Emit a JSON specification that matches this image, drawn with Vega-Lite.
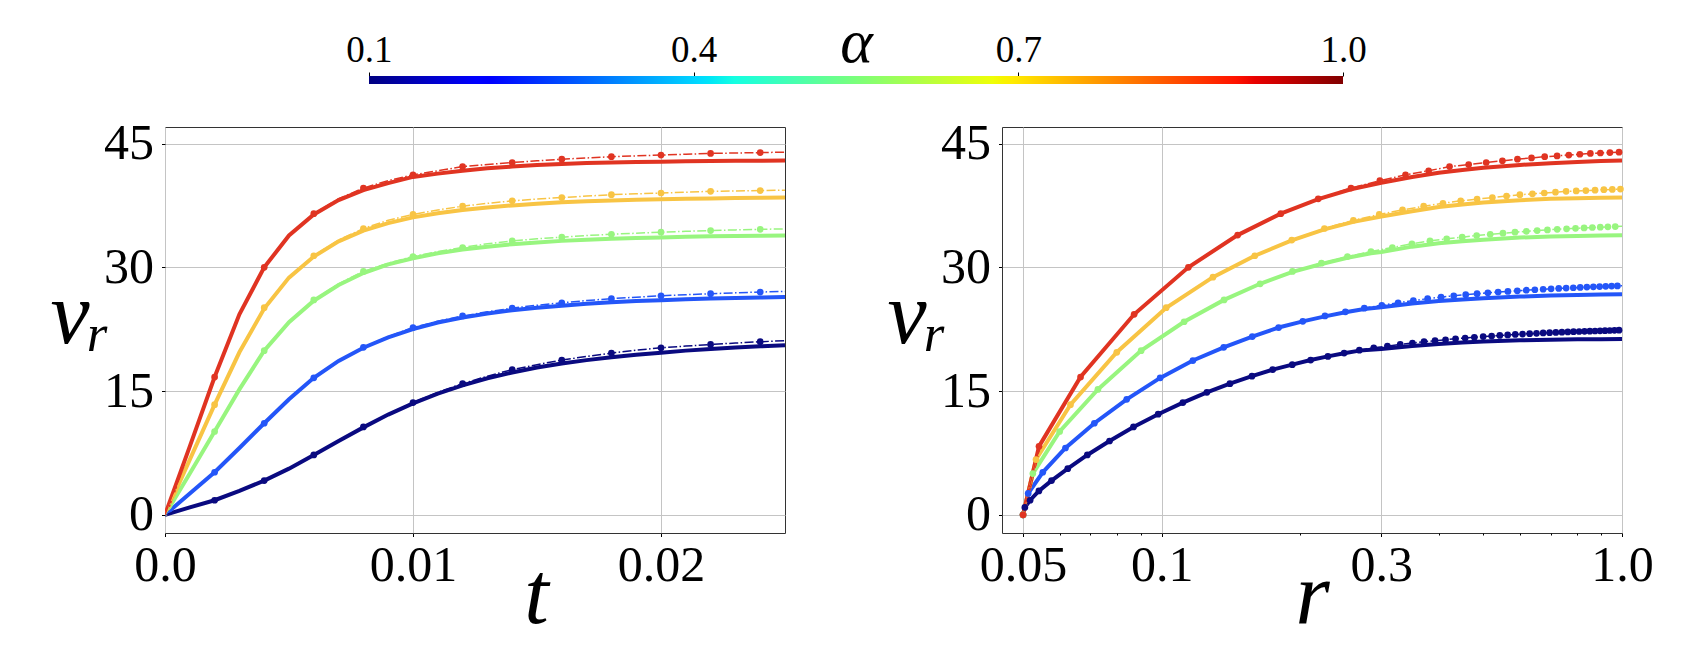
{
  "$schema": "https://vega.github.io/schema/vega-lite/v6.json",
  "background": "white",
  "padding": {"left": 49, "top": 11, "right": 10, "bottom": 10},
  "config": {
    "view": {"stroke": "#333333", "strokeWidth": 1},
    "font": "Liberation Serif",
    "axis": {
      "labelFont": "Liberation Serif",
      "titleFont": "Liberation Serif",
      "labelColor": "#000000",
      "titleColor": "#000000",
      "tickColor": "#000000",
      "tickWidth": 1,
      "domain": false,
      "gridColor": "#c4c4c4",
      "gridWidth": 1,
      "labelFlush": false,
      "labelOverlap": false,
      "labelBound": false,
      "titleFontWeight": "normal"
    }
  },
  "datasets": {
    "num": [
      {"a": 0.1, "k": 0, "t": 0.000, "r": 0.05, "v": 0},
      {"a": 0.1, "k": 1, "t": 0.001, "r": 0.05045, "v": 0.9},
      {"a": 0.1, "k": 2, "t": 0.002, "r": 0.05179, "v": 1.77},
      {"a": 0.1, "k": 3, "t": 0.003, "r": 0.05412, "v": 2.9},
      {"a": 0.1, "k": 4, "t": 0.004, "r": 0.05765, "v": 4.15},
      {"a": 0.1, "k": 5, "t": 0.005, "r": 0.06252, "v": 5.6},
      {"a": 0.1, "k": 6, "t": 0.006, "r": 0.06895, "v": 7.26},
      {"a": 0.1, "k": 7, "t": 0.007, "r": 0.07705, "v": 8.95},
      {"a": 0.1, "k": 8, "t": 0.008, "r": 0.08685, "v": 10.65},
      {"a": 0.1, "k": 9, "t": 0.009, "r": 0.09828, "v": 12.2},
      {"a": 0.1, "k": 10, "t": 0.010, "r": 0.1112, "v": 13.6},
      {"a": 0.1, "k": 11, "t": 0.011, "r": 0.1254, "v": 14.85},
      {"a": 0.1, "k": 12, "t": 0.012, "r": 0.1407, "v": 15.9},
      {"a": 0.1, "k": 13, "t": 0.013, "r": 0.1571, "v": 16.8},
      {"a": 0.1, "k": 14, "t": 0.014, "r": 0.1743, "v": 17.6},
      {"a": 0.1, "k": 15, "t": 0.015, "r": 0.1922, "v": 18.2},
      {"a": 0.1, "k": 16, "t": 0.016, "r": 0.2107, "v": 18.76},
      {"a": 0.1, "k": 17, "t": 0.017, "r": 0.2297, "v": 19.2},
      {"a": 0.1, "k": 18, "t": 0.018, "r": 0.2491, "v": 19.6},
      {"a": 0.1, "k": 19, "t": 0.019, "r": 0.2688, "v": 19.95},
      {"a": 0.1, "k": 20, "t": 0.020, "r": 0.2889, "v": 20.25},
      {"a": 0.1, "k": 21, "t": 0.021, "r": 0.3093, "v": 20.45},
      {"a": 0.1, "k": 22, "t": 0.022, "r": 0.3298, "v": 20.65},
      {"a": 0.1, "k": 23, "t": 0.023, "r": 0.3506, "v": 20.82},
      {"a": 0.1, "k": 24, "t": 0.024, "r": 0.3715, "v": 20.98},
      {"a": 0.1, "k": 25, "t": 0.025, "r": 0.3925, "v": 21.1},
      {"a": 0.1, "k": 26, "t": 0.026, "r": 0.4137, "v": 21.22},
      {"a": 0.1, "k": 27, "t": 0.027, "r": 0.4349, "v": 21.33},
      {"a": 0.1, "k": 28, "t": 0.028, "r": 0.4563, "v": 21.43},
      {"a": 0.1, "k": 29, "t": 0.029, "r": 0.4778, "v": 21.52},
      {"a": 0.1, "k": 30, "t": 0.030, "r": 0.4994, "v": 21.6},
      {"a": 0.1, "k": 31, "t": 0.031, "r": 0.5210, "v": 21.67},
      {"a": 0.1, "k": 32, "t": 0.032, "r": 0.5427, "v": 21.74},
      {"a": 0.1, "k": 33, "t": 0.033, "r": 0.5645, "v": 21.8},
      {"a": 0.1, "k": 34, "t": 0.034, "r": 0.5863, "v": 21.86},
      {"a": 0.1, "k": 35, "t": 0.035, "r": 0.6082, "v": 21.91},
      {"a": 0.1, "k": 36, "t": 0.036, "r": 0.6301, "v": 21.96},
      {"a": 0.1, "k": 37, "t": 0.037, "r": 0.6521, "v": 22.0},
      {"a": 0.1, "k": 38, "t": 0.038, "r": 0.6741, "v": 22.04},
      {"a": 0.1, "k": 39, "t": 0.039, "r": 0.6962, "v": 22.08},
      {"a": 0.1, "k": 40, "t": 0.040, "r": 0.7183, "v": 22.11},
      {"a": 0.1, "k": 41, "t": 0.041, "r": 0.7404, "v": 22.14},
      {"a": 0.1, "k": 42, "t": 0.042, "r": 0.7626, "v": 22.17},
      {"a": 0.1, "k": 43, "t": 0.043, "r": 0.7847, "v": 22.2},
      {"a": 0.1, "k": 44, "t": 0.044, "r": 0.8070, "v": 22.22},
      {"a": 0.1, "k": 45, "t": 0.045, "r": 0.8292, "v": 22.24},
      {"a": 0.1, "k": 46, "t": 0.046, "r": 0.8514, "v": 22.26},
      {"a": 0.1, "k": 47, "t": 0.047, "r": 0.8737, "v": 22.28},
      {"a": 0.1, "k": 48, "t": 0.048, "r": 0.8960, "v": 22.3},
      {"a": 0.1, "k": 49, "t": 0.049, "r": 0.9183, "v": 22.32},
      {"a": 0.1, "k": 50, "t": 0.050, "r": 0.9406, "v": 22.34},
      {"a": 0.1, "k": 51, "t": 0.051, "r": 0.9630, "v": 22.36},
      {"a": 0.1, "k": 52, "t": 0.052, "r": 0.9853, "v": 22.38},
      {"a": 0.1, "k": 53, "t": 0.053, "r": 1.0077, "v": 22.4},

      {"a": 0.3, "k": 0, "t": 0.000, "r": 0.05, "v": 0},
      {"a": 0.3, "k": 1, "t": 0.001, "r": 0.0513, "v": 2.6},
      {"a": 0.3, "k": 2, "t": 0.002, "r": 0.05518, "v": 5.16},
      {"a": 0.3, "k": 3, "t": 0.003, "r": 0.06181, "v": 8.1},
      {"a": 0.3, "k": 4, "t": 0.004, "r": 0.07141, "v": 11.1},
      {"a": 0.3, "k": 5, "t": 0.005, "r": 0.08396, "v": 14.0},
      {"a": 0.3, "k": 6, "t": 0.006, "r": 0.09926, "v": 16.6},
      {"a": 0.3, "k": 7, "t": 0.007, "r": 0.11691, "v": 18.7},
      {"a": 0.3, "k": 8, "t": 0.008, "r": 0.13641, "v": 20.3},
      {"a": 0.3, "k": 9, "t": 0.009, "r": 0.15736, "v": 21.6},
      {"a": 0.3, "k": 10, "t": 0.010, "r": 0.17951, "v": 22.7},
      {"a": 0.3, "k": 11, "t": 0.011, "r": 0.20259, "v": 23.45},
      {"a": 0.3, "k": 12, "t": 0.012, "r": 0.22636, "v": 24.1},
      {"a": 0.3, "k": 13, "t": 0.013, "r": 0.25071, "v": 24.6},
      {"a": 0.3, "k": 14, "t": 0.014, "r": 0.27554, "v": 25.05},
      {"a": 0.3, "k": 15, "t": 0.015, "r": 0.30076, "v": 25.4},
      {"a": 0.3, "k": 16, "t": 0.016, "r": 0.32631, "v": 25.7},
      {"a": 0.3, "k": 17, "t": 0.017, "r": 0.35215, "v": 25.97},
      {"a": 0.3, "k": 18, "t": 0.018, "r": 0.37823, "v": 26.2},
      {"a": 0.3, "k": 19, "t": 0.019, "r": 0.40452, "v": 26.38},
      {"a": 0.3, "k": 20, "t": 0.020, "r": 0.43099, "v": 26.55},
      {"a": 0.3, "k": 21, "t": 0.021, "r": 0.4576, "v": 26.68},
      {"a": 0.3, "k": 22, "t": 0.022, "r": 0.48434, "v": 26.8},
      {"a": 0.3, "k": 23, "t": 0.023, "r": 0.51119, "v": 26.9},
      {"a": 0.3, "k": 24, "t": 0.024, "r": 0.53814, "v": 27.0},
      {"a": 0.3, "k": 25, "t": 0.025, "r": 0.56518, "v": 27.08},
      {"a": 0.3, "k": 26, "t": 0.026, "r": 0.5923, "v": 27.15},
      {"a": 0.3, "k": 27, "t": 0.027, "r": 0.61948, "v": 27.22},
      {"a": 0.3, "k": 28, "t": 0.028, "r": 0.64673, "v": 27.28},
      {"a": 0.3, "k": 29, "t": 0.029, "r": 0.67404, "v": 27.34},
      {"a": 0.3, "k": 30, "t": 0.030, "r": 0.7014, "v": 27.39},
      {"a": 0.3, "k": 31, "t": 0.031, "r": 0.72882, "v": 27.44},
      {"a": 0.3, "k": 32, "t": 0.032, "r": 0.75628, "v": 27.48},
      {"a": 0.3, "k": 33, "t": 0.033, "r": 0.78378, "v": 27.52},
      {"a": 0.3, "k": 34, "t": 0.034, "r": 0.81132, "v": 27.56},
      {"a": 0.3, "k": 35, "t": 0.035, "r": 0.8389, "v": 27.6},
      {"a": 0.3, "k": 36, "t": 0.036, "r": 0.86652, "v": 27.63},
      {"a": 0.3, "k": 37, "t": 0.037, "r": 0.89416, "v": 27.66},
      {"a": 0.3, "k": 38, "t": 0.038, "r": 0.92184, "v": 27.69},
      {"a": 0.3, "k": 39, "t": 0.039, "r": 0.94954, "v": 27.72},
      {"a": 0.3, "k": 40, "t": 0.040, "r": 0.97727, "v": 27.74},
      {"a": 0.3, "k": 41, "t": 0.041, "r": 1.005, "v": 27.76},

      {"a": 0.5, "k": 0, "t": 0.000, "r": 0.05, "v": 0},
      {"a": 0.5, "k": 1, "t": 0.001, "r": 0.0525, "v": 5.0},
      {"a": 0.5, "k": 2, "t": 0.002, "r": 0.06005, "v": 10.1},
      {"a": 0.5, "k": 3, "t": 0.003, "r": 0.0727, "v": 15.2},
      {"a": 0.5, "k": 4, "t": 0.004, "r": 0.09025, "v": 19.9},
      {"a": 0.5, "k": 5, "t": 0.005, "r": 0.1119, "v": 23.4},
      {"a": 0.5, "k": 6, "t": 0.006, "r": 0.13663, "v": 26.05},
      {"a": 0.5, "k": 7, "t": 0.007, "r": 0.16365, "v": 28.0},
      {"a": 0.5, "k": 8, "t": 0.008, "r": 0.1924, "v": 29.5},
      {"a": 0.5, "k": 9, "t": 0.009, "r": 0.2224, "v": 30.5},
      {"a": 0.5, "k": 10, "t": 0.010, "r": 0.2533, "v": 31.3},
      {"a": 0.5, "k": 11, "t": 0.011, "r": 0.2849, "v": 31.9},
      {"a": 0.5, "k": 12, "t": 0.012, "r": 0.31705, "v": 32.4},
      {"a": 0.5, "k": 13, "t": 0.013, "r": 0.34968, "v": 32.85},
      {"a": 0.5, "k": 14, "t": 0.014, "r": 0.3827, "v": 33.2},
      {"a": 0.5, "k": 15, "t": 0.015, "r": 0.41603, "v": 33.45},
      {"a": 0.5, "k": 16, "t": 0.016, "r": 0.44958, "v": 33.65},
      {"a": 0.5, "k": 17, "t": 0.017, "r": 0.48333, "v": 33.85},
      {"a": 0.5, "k": 18, "t": 0.018, "r": 0.51725, "v": 34.0},
      {"a": 0.5, "k": 19, "t": 0.019, "r": 0.55132, "v": 34.13},
      {"a": 0.5, "k": 20, "t": 0.020, "r": 0.58551, "v": 34.25},
      {"a": 0.5, "k": 21, "t": 0.021, "r": 0.61981, "v": 34.36},
      {"a": 0.5, "k": 22, "t": 0.022, "r": 0.65422, "v": 34.45},
      {"a": 0.5, "k": 23, "t": 0.023, "r": 0.68871, "v": 34.53},
      {"a": 0.5, "k": 24, "t": 0.024, "r": 0.72327, "v": 34.6},
      {"a": 0.5, "k": 25, "t": 0.025, "r": 0.7579, "v": 34.66},
      {"a": 0.5, "k": 26, "t": 0.026, "r": 0.79259, "v": 34.72},
      {"a": 0.5, "k": 27, "t": 0.027, "r": 0.82734, "v": 34.77},
      {"a": 0.5, "k": 28, "t": 0.028, "r": 0.86213, "v": 34.82},
      {"a": 0.5, "k": 29, "t": 0.029, "r": 0.89697, "v": 34.86},
      {"a": 0.5, "k": 30, "t": 0.030, "r": 0.93185, "v": 34.9},
      {"a": 0.5, "k": 31, "t": 0.031, "r": 0.96677, "v": 34.93},
      {"a": 0.5, "k": 32, "t": 0.032, "r": 1.0017, "v": 34.96},

      {"a": 0.7, "k": 0, "t": 0.000, "r": 0.05, "v": 0},
      {"a": 0.7, "k": 1, "t": 0.001, "r": 0.05335, "v": 6.7},
      {"a": 0.7, "k": 2, "t": 0.002, "r": 0.06338, "v": 13.35},
      {"a": 0.7, "k": 3, "t": 0.003, "r": 0.0799, "v": 19.7},
      {"a": 0.7, "k": 4, "t": 0.004, "r": 0.1023, "v": 25.1},
      {"a": 0.7, "k": 5, "t": 0.005, "r": 0.12925, "v": 28.8},
      {"a": 0.7, "k": 6, "t": 0.006, "r": 0.15935, "v": 31.4},
      {"a": 0.7, "k": 7, "t": 0.007, "r": 0.1917, "v": 33.3},
      {"a": 0.7, "k": 8, "t": 0.008, "r": 0.2257, "v": 34.7},
      {"a": 0.7, "k": 9, "t": 0.009, "r": 0.2609, "v": 35.7},
      {"a": 0.7, "k": 10, "t": 0.010, "r": 0.29695, "v": 36.4},
      {"a": 0.7, "k": 11, "t": 0.011, "r": 0.33363, "v": 36.95},
      {"a": 0.7, "k": 12, "t": 0.012, "r": 0.3708, "v": 37.4},
      {"a": 0.7, "k": 13, "t": 0.013, "r": 0.40838, "v": 37.75},
      {"a": 0.7, "k": 14, "t": 0.014, "r": 0.44628, "v": 38.05},
      {"a": 0.7, "k": 15, "t": 0.015, "r": 0.48444, "v": 38.27},
      {"a": 0.7, "k": 16, "t": 0.016, "r": 0.5228, "v": 38.45},
      {"a": 0.7, "k": 17, "t": 0.017, "r": 0.56134, "v": 38.63},
      {"a": 0.7, "k": 18, "t": 0.018, "r": 0.60006, "v": 38.8},
      {"a": 0.7, "k": 19, "t": 0.019, "r": 0.63891, "v": 38.9},
      {"a": 0.7, "k": 20, "t": 0.020, "r": 0.67786, "v": 39.0},
      {"a": 0.7, "k": 21, "t": 0.021, "r": 0.71691, "v": 39.1},
      {"a": 0.7, "k": 22, "t": 0.022, "r": 0.75606, "v": 39.2},
      {"a": 0.7, "k": 23, "t": 0.023, "r": 0.79528, "v": 39.25},
      {"a": 0.7, "k": 24, "t": 0.024, "r": 0.83456, "v": 39.3},
      {"a": 0.7, "k": 25, "t": 0.025, "r": 0.87388, "v": 39.35},
      {"a": 0.7, "k": 26, "t": 0.026, "r": 0.91326, "v": 39.4},
      {"a": 0.7, "k": 27, "t": 0.027, "r": 0.95268, "v": 39.44},
      {"a": 0.7, "k": 28, "t": 0.028, "r": 0.99214, "v": 39.48},
      {"a": 0.7, "k": 29, "t": 0.029, "r": 1.0317, "v": 39.52},

      {"a": 0.9, "k": 0, "t": 0.000, "r": 0.05, "v": 0},
      {"a": 0.9, "k": 1, "t": 0.001, "r": 0.05415, "v": 8.3},
      {"a": 0.9, "k": 2, "t": 0.002, "r": 0.06665, "v": 16.7},
      {"a": 0.9, "k": 3, "t": 0.003, "r": 0.08715, "v": 24.3},
      {"a": 0.9, "k": 4, "t": 0.004, "r": 0.1143, "v": 30.0},
      {"a": 0.9, "k": 5, "t": 0.005, "r": 0.14625, "v": 33.9},
      {"a": 0.9, "k": 6, "t": 0.006, "r": 0.18145, "v": 36.5},
      {"a": 0.9, "k": 7, "t": 0.007, "r": 0.21885, "v": 38.3},
      {"a": 0.9, "k": 8, "t": 0.008, "r": 0.2578, "v": 39.6},
      {"a": 0.9, "k": 9, "t": 0.009, "r": 0.29785, "v": 40.5},
      {"a": 0.9, "k": 10, "t": 0.010, "r": 0.3387, "v": 41.2},
      {"a": 0.9, "k": 11, "t": 0.011, "r": 0.38015, "v": 41.7},
      {"a": 0.9, "k": 12, "t": 0.012, "r": 0.4221, "v": 42.2},
      {"a": 0.9, "k": 13, "t": 0.013, "r": 0.46443, "v": 42.45},
      {"a": 0.9, "k": 14, "t": 0.014, "r": 0.507, "v": 42.7},
      {"a": 0.9, "k": 15, "t": 0.015, "r": 0.5498, "v": 42.9},
      {"a": 0.9, "k": 16, "t": 0.016, "r": 0.5928, "v": 43.1},
      {"a": 0.9, "k": 17, "t": 0.017, "r": 0.63598, "v": 43.25},
      {"a": 0.9, "k": 18, "t": 0.018, "r": 0.6793, "v": 43.4},
      {"a": 0.9, "k": 19, "t": 0.019, "r": 0.72275, "v": 43.5},
      {"a": 0.9, "k": 20, "t": 0.020, "r": 0.7663, "v": 43.6},
      {"a": 0.9, "k": 21, "t": 0.021, "r": 0.80995, "v": 43.7},
      {"a": 0.9, "k": 22, "t": 0.022, "r": 0.8537, "v": 43.8},
      {"a": 0.9, "k": 23, "t": 0.023, "r": 0.89753, "v": 43.85},
      {"a": 0.9, "k": 24, "t": 0.024, "r": 0.9414, "v": 43.9},
      {"a": 0.9, "k": 25, "t": 0.025, "r": 0.98533, "v": 43.95},
      {"a": 0.9, "k": 26, "t": 0.026, "r": 1.0293, "v": 43.98}
    ],
    "modelT": [
      {"a": 0.1, "t": 0.000, "v": 0}, {"a": 0.1, "t": 0.001, "v": 0.9}, {"a": 0.1, "t": 0.002, "v": 1.77},
      {"a": 0.1, "t": 0.003, "v": 2.9}, {"a": 0.1, "t": 0.004, "v": 4.15}, {"a": 0.1, "t": 0.005, "v": 5.6},
      {"a": 0.1, "t": 0.006, "v": 7.26}, {"a": 0.1, "t": 0.007, "v": 8.95}, {"a": 0.1, "t": 0.008, "v": 10.6},
      {"a": 0.1, "t": 0.009, "v": 12.15}, {"a": 0.1, "t": 0.010, "v": 13.5}, {"a": 0.1, "t": 0.011, "v": 14.7},
      {"a": 0.1, "t": 0.012, "v": 15.7}, {"a": 0.1, "t": 0.013, "v": 16.55}, {"a": 0.1, "t": 0.014, "v": 17.25},
      {"a": 0.1, "t": 0.015, "v": 17.85}, {"a": 0.1, "t": 0.016, "v": 18.35}, {"a": 0.1, "t": 0.017, "v": 18.75},
      {"a": 0.1, "t": 0.018, "v": 19.1}, {"a": 0.1, "t": 0.019, "v": 19.4}, {"a": 0.1, "t": 0.020, "v": 19.65},
      {"a": 0.1, "t": 0.021, "v": 19.9}, {"a": 0.1, "t": 0.022, "v": 20.1}, {"a": 0.1, "t": 0.023, "v": 20.27},
      {"a": 0.1, "t": 0.024, "v": 20.42}, {"a": 0.1, "t": 0.025, "v": 20.55},

      {"a": 0.3, "t": 0.000, "v": 0}, {"a": 0.3, "t": 0.001, "v": 2.6}, {"a": 0.3, "t": 0.002, "v": 5.16},
      {"a": 0.3, "t": 0.003, "v": 8.1}, {"a": 0.3, "t": 0.004, "v": 11.1}, {"a": 0.3, "t": 0.005, "v": 14.0},
      {"a": 0.3, "t": 0.006, "v": 16.6}, {"a": 0.3, "t": 0.007, "v": 18.65}, {"a": 0.3, "t": 0.008, "v": 20.25},
      {"a": 0.3, "t": 0.009, "v": 21.5}, {"a": 0.3, "t": 0.010, "v": 22.5}, {"a": 0.3, "t": 0.011, "v": 23.3},
      {"a": 0.3, "t": 0.012, "v": 23.9}, {"a": 0.3, "t": 0.013, "v": 24.4}, {"a": 0.3, "t": 0.014, "v": 24.8},
      {"a": 0.3, "t": 0.015, "v": 25.1}, {"a": 0.3, "t": 0.016, "v": 25.35}, {"a": 0.3, "t": 0.017, "v": 25.57},
      {"a": 0.3, "t": 0.018, "v": 25.75}, {"a": 0.3, "t": 0.019, "v": 25.9}, {"a": 0.3, "t": 0.020, "v": 26.02},
      {"a": 0.3, "t": 0.021, "v": 26.12}, {"a": 0.3, "t": 0.022, "v": 26.21}, {"a": 0.3, "t": 0.023, "v": 26.28},
      {"a": 0.3, "t": 0.024, "v": 26.34}, {"a": 0.3, "t": 0.025, "v": 26.4},

      {"a": 0.5, "t": 0.000, "v": 0}, {"a": 0.5, "t": 0.001, "v": 5.0}, {"a": 0.5, "t": 0.002, "v": 10.1},
      {"a": 0.5, "t": 0.003, "v": 15.2}, {"a": 0.5, "t": 0.004, "v": 19.9}, {"a": 0.5, "t": 0.005, "v": 23.35},
      {"a": 0.5, "t": 0.006, "v": 25.95}, {"a": 0.5, "t": 0.007, "v": 27.85}, {"a": 0.5, "t": 0.008, "v": 29.3},
      {"a": 0.5, "t": 0.009, "v": 30.35}, {"a": 0.5, "t": 0.010, "v": 31.1}, {"a": 0.5, "t": 0.011, "v": 31.7},
      {"a": 0.5, "t": 0.012, "v": 32.15}, {"a": 0.5, "t": 0.013, "v": 32.5}, {"a": 0.5, "t": 0.014, "v": 32.8},
      {"a": 0.5, "t": 0.015, "v": 33.0}, {"a": 0.5, "t": 0.016, "v": 33.2}, {"a": 0.5, "t": 0.017, "v": 33.35},
      {"a": 0.5, "t": 0.018, "v": 33.45}, {"a": 0.5, "t": 0.019, "v": 33.55}, {"a": 0.5, "t": 0.020, "v": 33.62},
      {"a": 0.5, "t": 0.021, "v": 33.7}, {"a": 0.5, "t": 0.022, "v": 33.75}, {"a": 0.5, "t": 0.023, "v": 33.8},
      {"a": 0.5, "t": 0.024, "v": 33.83}, {"a": 0.5, "t": 0.025, "v": 33.85},

      {"a": 0.7, "t": 0.000, "v": 0}, {"a": 0.7, "t": 0.001, "v": 6.7}, {"a": 0.7, "t": 0.002, "v": 13.35},
      {"a": 0.7, "t": 0.003, "v": 19.7}, {"a": 0.7, "t": 0.004, "v": 25.0}, {"a": 0.7, "t": 0.005, "v": 28.75},
      {"a": 0.7, "t": 0.006, "v": 31.3}, {"a": 0.7, "t": 0.007, "v": 33.15}, {"a": 0.7, "t": 0.008, "v": 34.45},
      {"a": 0.7, "t": 0.009, "v": 35.35}, {"a": 0.7, "t": 0.010, "v": 36.05}, {"a": 0.7, "t": 0.011, "v": 36.55},
      {"a": 0.7, "t": 0.012, "v": 36.95}, {"a": 0.7, "t": 0.013, "v": 37.25}, {"a": 0.7, "t": 0.014, "v": 37.5},
      {"a": 0.7, "t": 0.015, "v": 37.7}, {"a": 0.7, "t": 0.016, "v": 37.87}, {"a": 0.7, "t": 0.017, "v": 38.0},
      {"a": 0.7, "t": 0.018, "v": 38.1}, {"a": 0.7, "t": 0.019, "v": 38.18}, {"a": 0.7, "t": 0.020, "v": 38.25},
      {"a": 0.7, "t": 0.021, "v": 38.3}, {"a": 0.7, "t": 0.022, "v": 38.35}, {"a": 0.7, "t": 0.023, "v": 38.39},
      {"a": 0.7, "t": 0.024, "v": 38.42}, {"a": 0.7, "t": 0.025, "v": 38.45},

      {"a": 0.9, "t": 0.000, "v": 0}, {"a": 0.9, "t": 0.001, "v": 8.3}, {"a": 0.9, "t": 0.002, "v": 16.7},
      {"a": 0.9, "t": 0.003, "v": 24.3}, {"a": 0.9, "t": 0.004, "v": 30.0}, {"a": 0.9, "t": 0.005, "v": 33.85},
      {"a": 0.9, "t": 0.006, "v": 36.4}, {"a": 0.9, "t": 0.007, "v": 38.15}, {"a": 0.9, "t": 0.008, "v": 39.35},
      {"a": 0.9, "t": 0.009, "v": 40.2}, {"a": 0.9, "t": 0.010, "v": 40.95}, {"a": 0.9, "t": 0.011, "v": 41.35},
      {"a": 0.9, "t": 0.012, "v": 41.7}, {"a": 0.9, "t": 0.013, "v": 42.0}, {"a": 0.9, "t": 0.014, "v": 42.2},
      {"a": 0.9, "t": 0.015, "v": 42.4}, {"a": 0.9, "t": 0.016, "v": 42.52}, {"a": 0.9, "t": 0.017, "v": 42.63},
      {"a": 0.9, "t": 0.018, "v": 42.7}, {"a": 0.9, "t": 0.019, "v": 42.76}, {"a": 0.9, "t": 0.020, "v": 42.8},
      {"a": 0.9, "t": 0.021, "v": 42.84}, {"a": 0.9, "t": 0.022, "v": 42.87}, {"a": 0.9, "t": 0.023, "v": 42.9},
      {"a": 0.9, "t": 0.024, "v": 42.92}, {"a": 0.9, "t": 0.025, "v": 42.93}
    ],
    "modelR": [
      {"a": 0.1, "r": 0.05, "v": 0}, {"a": 0.1, "r": 0.05045, "v": 0.9}, {"a": 0.1, "r": 0.05179, "v": 1.77},
      {"a": 0.1, "r": 0.05412, "v": 2.9}, {"a": 0.1, "r": 0.05765, "v": 4.15}, {"a": 0.1, "r": 0.06252, "v": 5.6},
      {"a": 0.1, "r": 0.06895, "v": 7.26}, {"a": 0.1, "r": 0.07705, "v": 8.95}, {"a": 0.1, "r": 0.08685, "v": 10.65},
      {"a": 0.1, "r": 0.09828, "v": 12.2}, {"a": 0.1, "r": 0.1112, "v": 13.6}, {"a": 0.1, "r": 0.1254, "v": 14.85},
      {"a": 0.1, "r": 0.1407, "v": 15.9}, {"a": 0.1, "r": 0.1571, "v": 16.8}, {"a": 0.1, "r": 0.1743, "v": 17.6},
      {"a": 0.1, "r": 0.1922, "v": 18.2}, {"a": 0.1, "r": 0.2107, "v": 18.76}, {"a": 0.1, "r": 0.2297, "v": 19.2},
      {"a": 0.1, "r": 0.2491, "v": 19.58}, {"a": 0.1, "r": 0.2688, "v": 19.9}, {"a": 0.1, "r": 0.3, "v": 20.1},
      {"a": 0.1, "r": 0.35, "v": 20.45}, {"a": 0.1, "r": 0.4, "v": 20.7}, {"a": 0.1, "r": 0.45, "v": 20.88},
      {"a": 0.1, "r": 0.5, "v": 21.0}, {"a": 0.1, "r": 0.6, "v": 21.15}, {"a": 0.1, "r": 0.7, "v": 21.22},
      {"a": 0.1, "r": 0.8, "v": 21.27}, {"a": 0.1, "r": 0.9, "v": 21.29}, {"a": 0.1, "r": 1.0, "v": 21.3},

      {"a": 0.3, "r": 0.05, "v": 0}, {"a": 0.3, "r": 0.0513, "v": 2.6}, {"a": 0.3, "r": 0.05518, "v": 5.16},
      {"a": 0.3, "r": 0.06181, "v": 8.1}, {"a": 0.3, "r": 0.07141, "v": 11.1}, {"a": 0.3, "r": 0.08396, "v": 14.0},
      {"a": 0.3, "r": 0.09926, "v": 16.6}, {"a": 0.3, "r": 0.11691, "v": 18.7}, {"a": 0.3, "r": 0.13641, "v": 20.3},
      {"a": 0.3, "r": 0.15736, "v": 21.6}, {"a": 0.3, "r": 0.17951, "v": 22.7}, {"a": 0.3, "r": 0.20259, "v": 23.45},
      {"a": 0.3, "r": 0.22636, "v": 24.05}, {"a": 0.3, "r": 0.25071, "v": 24.55}, {"a": 0.3, "r": 0.27554, "v": 24.95},
      {"a": 0.3, "r": 0.3, "v": 25.15}, {"a": 0.3, "r": 0.35, "v": 25.6}, {"a": 0.3, "r": 0.4, "v": 25.9},
      {"a": 0.3, "r": 0.45, "v": 26.1}, {"a": 0.3, "r": 0.5, "v": 26.25}, {"a": 0.3, "r": 0.6, "v": 26.45},
      {"a": 0.3, "r": 0.7, "v": 26.57}, {"a": 0.3, "r": 0.8, "v": 26.64}, {"a": 0.3, "r": 0.9, "v": 26.69},
      {"a": 0.3, "r": 1.0, "v": 26.72},

      {"a": 0.5, "r": 0.05, "v": 0}, {"a": 0.5, "r": 0.0525, "v": 5.0}, {"a": 0.5, "r": 0.06005, "v": 10.1},
      {"a": 0.5, "r": 0.0727, "v": 15.2}, {"a": 0.5, "r": 0.09025, "v": 19.9}, {"a": 0.5, "r": 0.1119, "v": 23.4},
      {"a": 0.5, "r": 0.13663, "v": 26.05}, {"a": 0.5, "r": 0.16365, "v": 28.0}, {"a": 0.5, "r": 0.1924, "v": 29.45},
      {"a": 0.5, "r": 0.2224, "v": 30.4}, {"a": 0.5, "r": 0.2533, "v": 31.15}, {"a": 0.5, "r": 0.2849, "v": 31.7},
      {"a": 0.5, "r": 0.3, "v": 31.85}, {"a": 0.5, "r": 0.35, "v": 32.5}, {"a": 0.5, "r": 0.4, "v": 32.9},
      {"a": 0.5, "r": 0.45, "v": 33.15}, {"a": 0.5, "r": 0.5, "v": 33.33}, {"a": 0.5, "r": 0.6, "v": 33.6},
      {"a": 0.5, "r": 0.7, "v": 33.73}, {"a": 0.5, "r": 0.8, "v": 33.8}, {"a": 0.5, "r": 0.9, "v": 33.84},
      {"a": 0.5, "r": 1.0, "v": 33.87},

      {"a": 0.7, "r": 0.05, "v": 0}, {"a": 0.7, "r": 0.05335, "v": 6.7}, {"a": 0.7, "r": 0.06338, "v": 13.35},
      {"a": 0.7, "r": 0.0799, "v": 19.7}, {"a": 0.7, "r": 0.1023, "v": 25.1}, {"a": 0.7, "r": 0.12925, "v": 28.8},
      {"a": 0.7, "r": 0.15935, "v": 31.4}, {"a": 0.7, "r": 0.1917, "v": 33.25}, {"a": 0.7, "r": 0.2257, "v": 34.6},
      {"a": 0.7, "r": 0.2609, "v": 35.5}, {"a": 0.7, "r": 0.3, "v": 36.15}, {"a": 0.7, "r": 0.35, "v": 36.8},
      {"a": 0.7, "r": 0.4, "v": 37.3}, {"a": 0.7, "r": 0.45, "v": 37.6}, {"a": 0.7, "r": 0.5, "v": 37.85},
      {"a": 0.7, "r": 0.6, "v": 38.13}, {"a": 0.7, "r": 0.7, "v": 38.3}, {"a": 0.7, "r": 0.8, "v": 38.38},
      {"a": 0.7, "r": 0.9, "v": 38.43}, {"a": 0.7, "r": 1.0, "v": 38.46},

      {"a": 0.9, "r": 0.05, "v": 0}, {"a": 0.9, "r": 0.05415, "v": 8.3}, {"a": 0.9, "r": 0.06665, "v": 16.7},
      {"a": 0.9, "r": 0.08715, "v": 24.3}, {"a": 0.9, "r": 0.1143, "v": 30.0}, {"a": 0.9, "r": 0.14625, "v": 33.9},
      {"a": 0.9, "r": 0.18145, "v": 36.5}, {"a": 0.9, "r": 0.21885, "v": 38.25}, {"a": 0.9, "r": 0.2578, "v": 39.45},
      {"a": 0.9, "r": 0.3, "v": 40.25}, {"a": 0.9, "r": 0.35, "v": 40.95}, {"a": 0.9, "r": 0.4, "v": 41.45},
      {"a": 0.9, "r": 0.45, "v": 41.8}, {"a": 0.9, "r": 0.5, "v": 42.05}, {"a": 0.9, "r": 0.6, "v": 42.4},
      {"a": 0.9, "r": 0.7, "v": 42.62}, {"a": 0.9, "r": 0.8, "v": 42.76}, {"a": 0.9, "r": 0.9, "v": 42.87},
      {"a": 0.9, "r": 1.0, "v": 42.93}
    ]
  },
  "bounds": "flush",
  "spacing": 43,
  "vconcat": [
    {
      "width": 1457,
      "height": 8,
      "view": {"stroke": null},
      "data": {"values": [{"lo": 0.1, "hi": 1.0}]},
      "mark": {
        "type": "rect",
        "fill": {
          "gradient": "linear",
          "x1": 0, "y1": 0, "x2": 1, "y2": 0,
          "stops": [
            {"offset": 0.0, "color": "#000080"},
            {"offset": 0.11, "color": "#0000ff"},
            {"offset": 0.125, "color": "#0000ff"},
            {"offset": 0.34, "color": "#00dbff"},
            {"offset": 0.35, "color": "#00e6f7"},
            {"offset": 0.375, "color": "#15ffe2"},
            {"offset": 0.5, "color": "#7bff7b"},
            {"offset": 0.64, "color": "#eeff08"},
            {"offset": 0.65, "color": "#f7f500"},
            {"offset": 0.66, "color": "#ffec00"},
            {"offset": 0.89, "color": "#ff1300"},
            {"offset": 0.91, "color": "#e80000"},
            {"offset": 1.0, "color": "#800000"}
          ]
        }
      },
      "encoding": {
        "x": {
          "field": "lo",
          "type": "quantitative",
          "scale": {"domain": [-0.0885, 1.2578], "nice": false, "zero": false},
          "axis": {
            "orient": "top",
            "values": [0.1, 0.4, 0.7, 1.0],
            "format": ".1f",
            "grid": false,
            "domain": false,
            "tickSize": 4,
            "labelFontSize": 37,
            "labelBaseline": "alphabetic",
            "labelPadding": 11,
            "title": "α",
            "titleFontSize": 62,
            "titleFontStyle": "italic",
            "titleX": 691,
            "titleY": -15,
            "titleBaseline": "alphabetic",
            "titleAlign": "center"
          }
        },
        "x2": {"field": "hi"}
      }
    },
    {
      "bounds": "flush",
      "spacing": 217,
      "hconcat": [
        {
          "width": 620,
          "height": 406,
          "layer": [
            {
              "data": {"name": "modelT"},
              "mark": {"type": "line", "strokeWidth": 4, "clip": true},
              "encoding": {
                "x": {
                  "field": "t",
                  "type": "quantitative",
                  "scale": {"domain": [0, 0.025], "nice": false, "zero": false},
                  "axis": {
                    "values": [0, 0.01, 0.02],
                    "labelExpr": "datum.value == 0 ? '0.0' : format(datum.value, '.2f')",
                    "grid": true,
                    "tickSize": 3.5,
                    "labelFontSize": 50,
                    "labelBaseline": "alphabetic",
                    "labelPadding": 44,
                    "title": "t",
                    "titleFontSize": 88,
                    "titleFontStyle": "italic",
                    "titleX": 371,
                    "titleY": 89,
                    "titleBaseline": "alphabetic",
                    "titleAlign": "center"
                  }
                },
                "y": {
                  "field": "v",
                  "type": "quantitative",
                  "scale": {"domain": [-2.2, 47], "nice": false, "zero": false},
                  "axis": {
                    "values": [0, 15, 30, 45],
                    "grid": true,
                    "tickSize": 3.5,
                    "labelFontSize": 50,
                    "labelPadding": 8,
                    "title": "vᵣ",
                    "titleFontSize": 88,
                    "titleFontStyle": "italic",
                    "titleAngle": 0,
                    "titleX": -115,
                    "titleY": 215,
                    "titleAlign": "left",
                    "titleBaseline": "alphabetic"
                  }
                },
                "color": {
                  "field": "a",
                  "type": "nominal",
                  "scale": {"domain": [0.1, 0.3, 0.5, 0.7, 0.9], "range": ["#0a0a80", "#2456f8", "#98f57f", "#f8c444", "#e03422"]},
                  "legend": null
                }
              }
            },
            {
              "data": {"name": "num"},
              "transform": [{"filter": "datum.t <= 0.0251"}],
              "mark": {"type": "line", "strokeWidth": 1.5, "strokeDash": [9, 2.4, 1.5, 2.4], "clip": true},
              "encoding": {
                "x": {"field": "t", "type": "quantitative"},
                "y": {"field": "v", "type": "quantitative"},
                "color": {"field": "a", "type": "nominal"}
              }
            },
            {
              "data": {"name": "num"},
              "transform": [{"filter": "datum.t <= 0.0251 && datum.k % 2 == 0 && datum.k > 0"}],
              "mark": {"type": "circle", "size": 45, "opacity": 1},
              "encoding": {
                "x": {"field": "t", "type": "quantitative"},
                "y": {"field": "v", "type": "quantitative"},
                "color": {"field": "a", "type": "nominal"}
              }
            }
          ]
        },
        {
          "width": 620,
          "height": 406,
          "resolve": {"axis": {"x": "independent"}},
          "layer": [
            {
              "data": {"name": "modelR"},
              "mark": {"type": "line", "strokeWidth": 4, "clip": true},
              "encoding": {
                "x": {
                  "field": "r",
                  "type": "quantitative",
                  "scale": {"type": "log", "domain": [0.045, 1.0], "nice": false},
                  "axis": {
                    "orient": "bottom",
                    "values": [0.05, 0.1, 0.3, 1.0],
                    "labelExpr": "datum.value >= 1 ? '1.0' : '' + datum.value",
                    "grid": true,
                    "tickSize": 3.5,
                    "labelFontSize": 50,
                    "labelBaseline": "alphabetic",
                    "labelPadding": 44,
                    "title": "r",
                    "titleFontSize": 88,
                    "titleFontStyle": "italic",
                    "titleX": 310,
                    "titleY": 89,
                    "titleBaseline": "alphabetic",
                    "titleAlign": "center"
                  }
                },
                "y": {
                  "field": "v",
                  "type": "quantitative",
                  "scale": {"domain": [-2.2, 47], "nice": false, "zero": false},
                  "axis": {
                    "values": [0, 15, 30, 45],
                    "grid": true,
                    "tickSize": 3.5,
                    "labelFontSize": 50,
                    "labelPadding": 8,
                    "title": "vᵣ",
                    "titleFontSize": 88,
                    "titleFontStyle": "italic",
                    "titleAngle": 0,
                    "titleX": -115,
                    "titleY": 215,
                    "titleAlign": "left",
                    "titleBaseline": "alphabetic"
                  }
                },
                "color": {
                  "field": "a",
                  "type": "nominal",
                  "scale": {"domain": [0.1, 0.3, 0.5, 0.7, 0.9], "range": ["#0a0a80", "#2456f8", "#98f57f", "#f8c444", "#e03422"]},
                  "legend": null
                }
              }
            },
            {
              "data": {"name": "num"},
              "mark": {"type": "line", "strokeWidth": 1.5, "strokeDash": [9, 2.4, 1.5, 2.4], "clip": true},
              "encoding": {
                "x": {
                  "field": "r",
                  "type": "quantitative",
                  "scale": {"type": "log", "domain": [0.045, 1.0], "nice": false},
                  "axis": {
                    "orient": "bottom",
                    "values": [0.06, 0.07, 0.08, 0.09, 0.2, 0.4, 0.5, 0.6, 0.7, 0.8, 0.9],
                    "labels": false,
                    "grid": false,
                    "tickSize": 2,
                    "title": null
                  }
                },
                "y": {"field": "v", "type": "quantitative"},
                "color": {"field": "a", "type": "nominal"}
              }
            },
            {
              "data": {"name": "num"},
              "transform": [{"filter": "datum.r <= 1.0"}],
              "mark": {"type": "circle", "size": 45, "opacity": 1},
              "encoding": {
                "x": {
                  "field": "r",
                  "type": "quantitative",
                  "scale": {"type": "log", "domain": [0.045, 1.0], "nice": false},
                  "axis": null
                },
                "y": {"field": "v", "type": "quantitative"},
                "color": {"field": "a", "type": "nominal"}
              }
            }
          ]
        }
      ]
    }
  ]
}
